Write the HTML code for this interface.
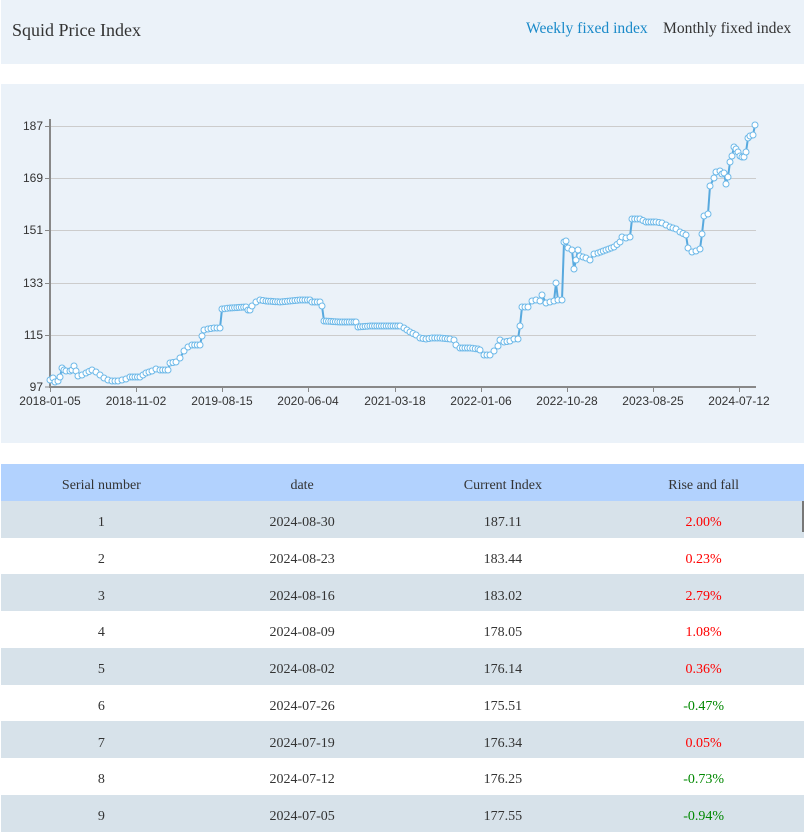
<!DOCTYPE html>
<html><head><meta charset="utf-8"><style>
*{margin:0;padding:0;box-sizing:border-box}
body{width:804px;height:832px;overflow:hidden;background:#fff;font-family:"Liberation Serif",serif;position:relative}
.hdr{position:absolute;left:1px;top:0;width:803px;height:64px;background:#ebf2f9}
.t{position:absolute;left:11px;top:20px;font-size:18px;color:#333}
.w{position:absolute;left:525px;top:20px;font-size:15.6px;color:#1a8ac9}
.m{position:absolute;left:662px;top:20px;font-size:15.6px;color:#333}
.ch{position:absolute;left:1px;top:84px;width:803px;height:359px;background:#ebf2f9}
table{position:absolute;left:1px;top:464px;width:803px;border-collapse:collapse;font-size:14px;color:#333}
td,th{height:36.75px;padding:8px 0 0;text-align:center;font-weight:normal;width:25%}
th{background:#b2d2fe}
tr.g td{background:#d7e2ea}
.r{color:#f00}.gr{color:#080}
.sb{position:absolute;left:802px;top:501px;width:2px;height:31px;background:#777}
</style></head><body>
<div class="hdr"><span class="t">Squid Price Index</span><span class="w">Weekly fixed index</span><span class="m">Monthly fixed index</span></div>
<div class="ch"></div>
<svg id="s" style="position:absolute;left:0;top:0" width="804" height="450" font-family="Liberation Sans, sans-serif" font-size="12" fill="#333">
<g stroke="#ccc" stroke-width="1">
<line x1="50" x2="756" y1="126.5" y2="126.5"/><line x1="50" x2="756" y1="178.5" y2="178.5"/><line x1="50" x2="756" y1="230.5" y2="230.5"/><line x1="50" x2="756" y1="283.5" y2="283.5"/><line x1="50" x2="756" y1="335.5" y2="335.5"/>
</g>
<g stroke="#888" stroke-width="2"><line x1="50" x2="50" y1="119" y2="388"/><line x1="49" x2="756" y1="387" y2="387"/></g>
<g stroke="#888"><line x1="45" x2="50" y1="126.5" y2="126.5"/><line x1="45" x2="50" y1="178.5" y2="178.5"/><line x1="45" x2="50" y1="230.5" y2="230.5"/><line x1="45" x2="50" y1="283.5" y2="283.5"/><line x1="45" x2="50" y1="335.5" y2="335.5"/><line x1="45" x2="50" y1="387" y2="387"/>
<line x1="50.5" x2="50.5" y1="387" y2="392"/><line x1="136.5" x2="136.5" y1="387" y2="392"/><line x1="222.5" x2="222.5" y1="387" y2="392"/><line x1="308.5" x2="308.5" y1="387" y2="392"/><line x1="395.5" x2="395.5" y1="387" y2="392"/><line x1="481.5" x2="481.5" y1="387" y2="392"/><line x1="567.5" x2="567.5" y1="387" y2="392"/><line x1="653.5" x2="653.5" y1="387" y2="392"/><line x1="739.5" x2="739.5" y1="387" y2="392"/></g>
<g text-anchor="end"><text x="43" y="130">187</text><text x="43" y="182">169</text><text x="43" y="234">151</text><text x="43" y="287">133</text><text x="43" y="339">115</text><text x="43" y="391">97</text></g>
<g text-anchor="middle"><text x="50" y="405">2018-01-05</text><text x="136" y="405">2018-11-02</text><text x="222" y="405">2019-08-15</text><text x="308" y="405">2020-06-04</text><text x="395" y="405">2021-03-18</text><text x="481" y="405">2022-01-06</text><text x="567" y="405">2022-10-28</text><text x="653" y="405">2023-08-25</text><text x="739" y="405">2024-07-12</text></g>
<g id="d"></g>
</svg>
<table>
<tr><th>Serial number</th><th>date</th><th>Current Index</th><th>Rise and fall</th></tr>
<tr class="g"><td>1</td><td>2024-08-30</td><td>187.11</td><td class="r">2.00%</td></tr>
<tr><td>2</td><td>2024-08-23</td><td>183.44</td><td class="r">0.23%</td></tr>
<tr class="g"><td>3</td><td>2024-08-16</td><td>183.02</td><td class="r">2.79%</td></tr>
<tr><td>4</td><td>2024-08-09</td><td>178.05</td><td class="r">1.08%</td></tr>
<tr class="g"><td>5</td><td>2024-08-02</td><td>176.14</td><td class="r">0.36%</td></tr>
<tr><td>6</td><td>2024-07-26</td><td>175.51</td><td class="gr">-0.47%</td></tr>
<tr class="g"><td>7</td><td>2024-07-19</td><td>176.34</td><td class="r">0.05%</td></tr>
<tr><td>8</td><td>2024-07-12</td><td>176.25</td><td class="gr">-0.73%</td></tr>
<tr class="g"><td>9</td><td>2024-07-05</td><td>177.55</td><td class="gr">-0.94%</td></tr>
</table>
<div class="sb"></div>
<script>
var k=[[50,380],[53,378],[55,382],[58,381],[60,377],[62,368],[64,370],[66,371],[70,371],[72,370],[74,366],[76,371],[78,376],[82,375],[86,373],[92,370],[96,372],[100,375],[104,378],[108,380],[112,381],[118,381],[122,380],[126,379],[130,377],[140,377],[146,373],[152,371],[156,369],[160,370],[168,370],[170,363],[176,362],[180,358],[184,351],[188,347],[192,345],[200,345],[202,336],[204,330],[208,329],[214,328],[220,328],[222,309],[230,308],[246,307],[248,310],[250,310],[252,306],[256,302],[260,300],[266,301],[280,302],[290,301],[300,300],[310,300],[312,302],[320,302],[322,306],[324,321],[340,322],[354,322],[356,322],[358,327],[370,326],[400,326],[404,328],[410,332],[416,335],[420,338],[426,339],[432,338],[440,338],[450,339],[454,340],[456,345],[460,348],[470,348],[478,349],[480,350],[484,355],[490,355],[494,351],[498,346],[500,340],[504,342],[510,341],[514,339],[518,339],[520,326],[522,307],[528,307],[532,301],[536,300],[540,301],[542,295],[546,303],[550,302],[554,301],[556,283],[558,300],[562,300],[564,242],[566,241],[568,248],[572,250],[574,269],[576,260],[578,250],[580,256],[586,258],[590,260],[594,254],[598,253],[606,250],[614,247],[620,242],[622,237],[626,238],[630,237],[632,219],[640,219],[646,222],[656,222],[662,223],[666,225],[670,227],[676,229],[680,232],[686,235],[688,248],[692,252],[696,251],[700,249],[702,234],[704,216],[708,214],[710,186],[714,178],[716,172],[720,171],[722,174],[724,173],[726,184],[728,177],[730,162],[732,156],[734,147],[736,149],[738,152],[740,156],[742,157],[744,157],[746,152],[748,138],[750,136],[753,135],[755,125]];
var pts=[];
for(var i=0;i<k.length-1;i++){var a=k[i],b=k[i+1];pts.push(a);var n=Math.floor((b[0]-a[0])/2.2);for(var j=1;j<n;j++){var t=j/n;pts.push([a[0]+(b[0]-a[0])*t,a[1]+(b[1]-a[1])*t]);}}
pts.push(k[k.length-1]);
var s='<polyline fill="none" stroke="#58a9de" stroke-width="2" points="'+pts.map(function(p){return p[0].toFixed(1)+','+p[1].toFixed(1)}).join(' ')+'"/>';
pts.forEach(function(p){s+='<circle cx="'+p[0].toFixed(1)+'" cy="'+p[1].toFixed(1)+'" r="3" fill="#fff" stroke="#6cb8e8" stroke-width="1"/>';});
document.getElementById('d').innerHTML=s;
</script>
</body></html>
